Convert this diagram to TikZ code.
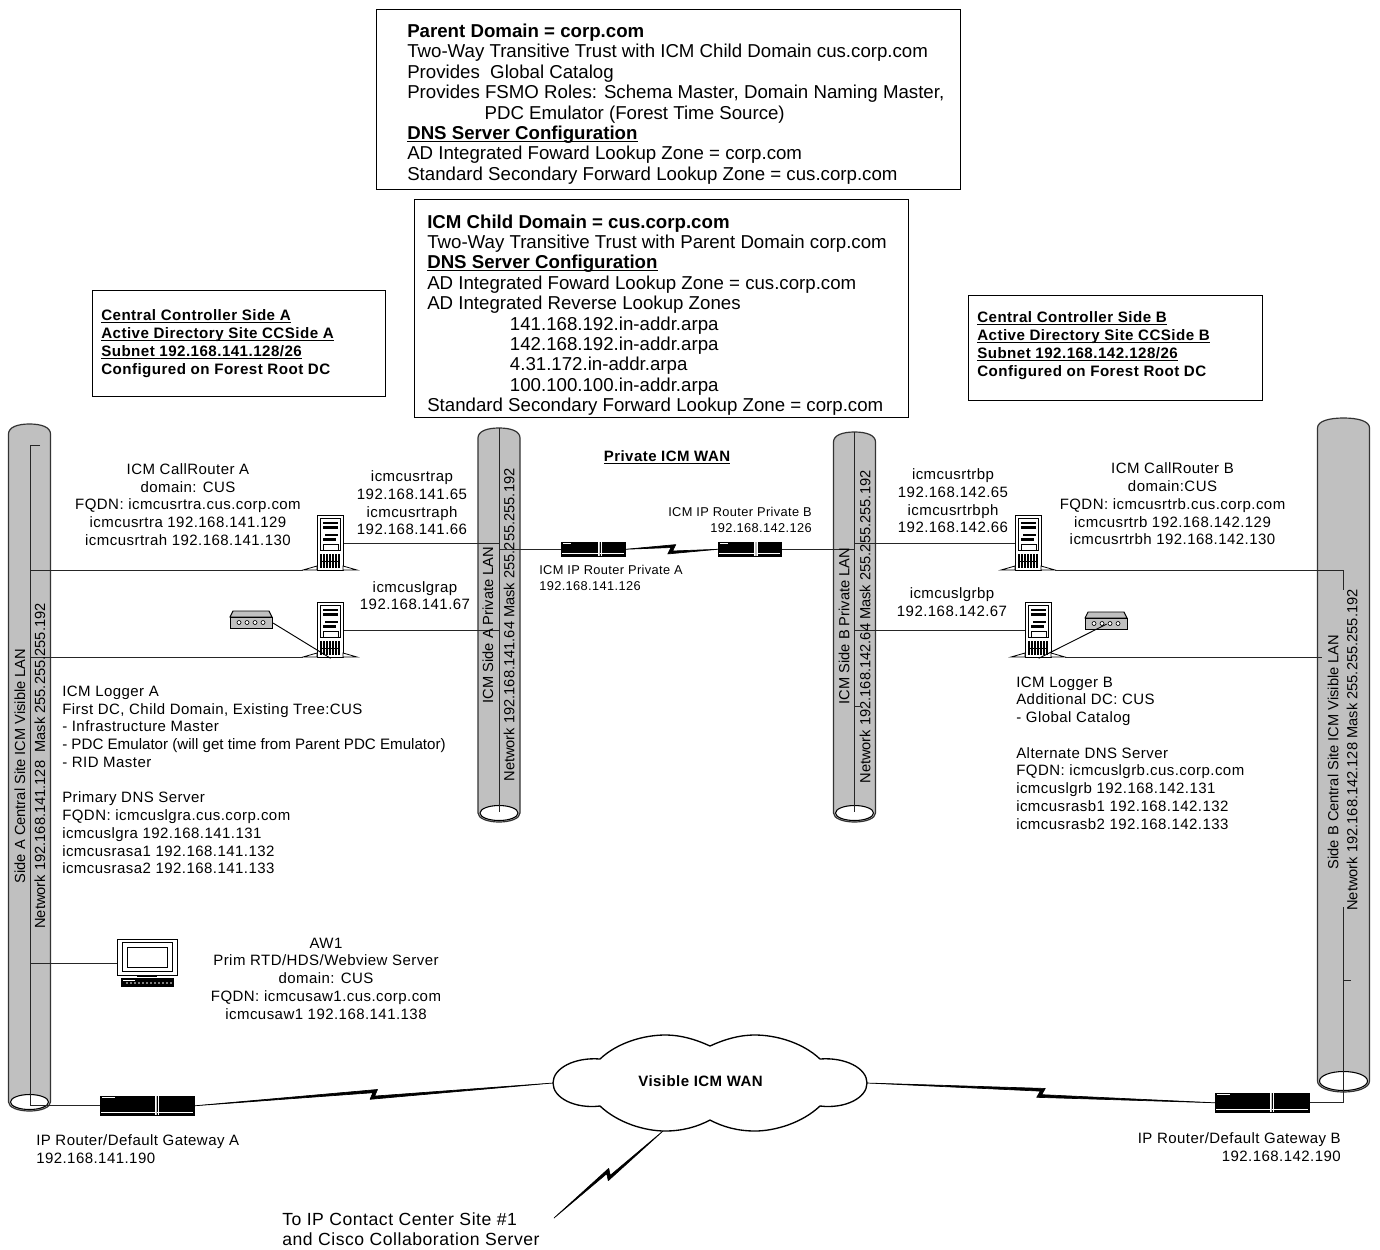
\documentclass[tikz,border=0pt]{standalone}
\usepackage{fontspec}
\usepackage{xcolor}
\setmainfont{Liberation Sans}
\newfontfamily\spacedfont[LetterSpace=3]{Liberation Sans}
\usetikzlibrary{calc}
\definecolor{pipegray}{HTML}{C0C0C0}
\tikzset{%
    infobox/.style={draw,line width=1pt,inner sep=0pt,anchor=north west},
    infotext/.style={inner sep=0pt,align=left,anchor=west,font=\fontsize{14}{15.3}\selectfont},
    sidetext/.style={inner sep=0pt,align=left,anchor=west,font=\fontsize{11.35}{13.5}\spacedfont\bfseries},
    lbl/.style={inner sep=0pt,align=center,font=\fontsize{11.25}{13.3}\spacedfont},
    lblleft/.style={lbl,align=left,anchor=west},
    lblright/.style={lbl,align=right,anchor=east},
    smalllbl/.style={inner sep=0pt,font=\fontsize{9.6}{12}\spacedfont},
    pipetext/.style={inner sep=0pt,rotate=90,font=\fontsize{11}{13}\selectfont},
    boldlbl/.style={inner sep=0pt,font=\fontsize{11.25}{13.5}\spacedfont\bfseries},
    lanline/.style={line width=0.7pt,color=black!85},
    pics/lanpipe/.style n args={3}{code={
        \draw[fill=pipegray,line width=0.9pt,color=black!80,fill=pipegray] (-#1,10) .. controls (-#1,3) and ({-0.55*#1},0) .. (0,0) .. controls ({0.55*#1},0) and (#1,3) .. (#1,10) -- (#1,#2) .. controls (#1,{#2+0.6*#3}) and ({0.55*#1},{#2+#3}) .. (0,{#2+#3}) .. controls ({-0.55*#1},{#2+#3}) and (-#1,{#2+0.6*#3}) .. (-#1,#2) -- cycle;
        \draw[fill=white,line width=0.8pt] (0,#2) ellipse [x radius={#1-2},y radius={#3-1.5}];
    }},
    pics/server/.style={code={
        \node[draw=black,line width=1pt,fill=white,inner sep=0pt,minimum width=19.5pt,minimum height=41.25pt,anchor=north west] (-body) at (0,0) {};
        \coordinate (-footL) at (-14,55);
        \coordinate (-footR) at (40,55);
        \draw[line width=0.6pt,fill=white] (-14,55) -- (0,51) -- (0,55) -- cycle;
        \draw[line width=0.6pt,fill=white] (40,55) -- (26,51) -- (26,55) -- cycle;
        \draw[line width=0.5pt] (3,3) rectangle (23,35);
        \fill (6,7) rectangle (21,9);
        \fill (6,11) rectangle (21,14);
        \fill (8,19) rectangle (21,21);
        \fill (6,23) rectangle (19,26);
        \draw[line width=0.5pt] (6,29) rectangle (21,35);
        \foreach \xs in {4,7,10,13,16,19,22}
            \draw[line width=1.1pt] (\xs,39) -- (\xs,53);
        \draw[line width=0.6pt] (3,46) -- (23,46);
    }},
    pics/routerbox/.style 2 args={code={
        \node[draw=black,fill=black,inner sep=0pt,minimum width={#1*0.75pt},minimum height={#2*0.75pt},anchor=north west] (-body) at (0,0) {};
        \draw[white,line width=0.5pt] (1,{#2-3}) -- ({#1-1},{#2-3});
        \draw[white,line width=0.4pt] (2,1.5) -- ({0.16*#1},1.5);
        \draw[pipegray,line width=1.4pt] ({0.6*#1},0) -- ({0.6*#1},#2);
        \draw[white,line width=0.4pt] ({0.6*#1+1.6},0) -- ({0.6*#1+1.6},#2);
        \draw[white,line width=0.4pt] ({0.6*#1-1.6},0) -- ({0.6*#1-1.6},#2);
    }},
    pics/modem/.style={code={
        \draw[fill=pipegray,line width=0.7pt] (3,0) -- (39,0) -- (42,6) -- (0,6) -- cycle;
        \node[draw=black,line width=0.9pt,fill=pipegray,inner sep=0pt,minimum width=31.5pt,minimum height=8.25pt,anchor=north west] (-body) at (0,6) {};
        \foreach \xs in {9,17,25,33}
            \draw[fill=white,line width=0.5pt] (\xs,11.5) circle [radius=2];
    }},
    pics/monitor/.style={code={
        \node[draw=black,line width=0.9pt,fill=white,inner sep=0pt,minimum width=45pt,minimum height=27pt,anchor=north west] (-body) at (0,0) {};
        \coordinate (-port) at (0,24);
        \draw[line width=0.7pt] (5,3) rectangle (55,32);
        \draw[line width=0.7pt] (10,8) rectangle (50,28);
        \fill (20,36) rectangle (40,38);
        \fill (4,39) rectangle (57,48);
        \foreach \xs in {10,14,...,54}
            \fill[white] (\xs,44) circle [radius=0.9];
        \fill[white] (6,41) rectangle (18,42);
    }},
}
\newcommand{\boltlink}[2]{%
    \draw[fill,line width=0.5pt,line join=round] (#1) -- ($(#1)!.5!(#2)!3pt!(#2)!3.5pt!90:(#2)$) -- ($(#1)!.5!(#2)!0.6pt!(#2)!-1.3pt!90:(#2)$) -- (#2) -- ($(#1)!.5!(#2)!-3pt!(#2)!-3.5pt!90:(#2)$) -- ($(#1)!.5!(#2)!-0.6pt!(#2)!1.3pt!90:(#2)$) -- cycle;
}
\newcommand{\ulined}[1]{\setbox0=\hbox{#1}\rlap{\rule[-1.8pt]{\wd0}{0.8pt}}\box0}
\begin{document}
\begin{tikzpicture}[x=0.75pt,y=-0.75pt]
        \useasboundingbox (0,0) rectangle (1380,1249);

        \pic (pipeVisA) at (29.5,424) {lanpipe={21}{678}{9}};
        \pic (pipePrivA) at (499,428) {lanpipe={21}{385}{9}};
        \pic (pipePrivB) at (854.5,432) {lanpipe={21}{381}{9}};
        \pic (pipeVisB) at (1343.5,418) {lanpipe={26}{663}{11}};

        \coordinate (visA) at (30,445);
        \coordinate (privA) at (499,428);
        \coordinate (privB) at (854.5,432);
        \coordinate (visB) at (1343,570);
        \coordinate (visBlow) at (1343,907);
        \coordinate (logBend) at (1322,657);

        \pic (srvRtrA) at (317,515) {server};
        \pic (srvLogA) at (317,602) {server};
        \pic (srvRtrB) at (1015,515) {server};
        \pic (srvLogB) at (1025,602) {server};
        \pic (modA) at (230,611) {modem};
        \pic (modB) at (1085,612) {modem};
        \pic (wsA) at (117,939) {monitor};
        \pic (rtrPrivA) at (561,542) {routerbox={64}{14}};
        \pic (rtrPrivB) at (718,542) {routerbox={63}{14}};
        \pic (rtrVisA) at (100,1096) {routerbox={94}{19}};
        \pic (rtrVisB) at (1215,1093) {routerbox={94}{19}};

        \draw[lanline] ($(visA)+(10,0)$) -- (visA) |- (rtrVisA-body.west);
        \draw[lanline] (visA |- srvRtrA-footL) -- (srvRtrA-footL);
        \draw[lanline] (visA |- srvLogA-footL) -- (srvLogA-footL);
        \draw[lanline] (visA |- wsA-port) -- (wsA-port);
        \draw[lanline] (privA) -- ++(0,384);
        \draw[lanline] (privB) -- ++(0,380);
        \draw[lanline] (srvRtrA-body.east) -- (privA |- srvRtrA-body.east);
        \draw[lanline] (srvLogA-body.east) -- (privA |- srvLogA-body.east);
        \draw[lanline] (privA |- rtrPrivA-body.west) -- (rtrPrivA-body.west);
        \draw[lanline] (rtrPrivB-body.east) -- (privB |- rtrPrivB-body.east);
        \draw[lanline] (srvRtrB-body.west) -- (privB |- srvRtrB-body.west);
        \draw[lanline] (srvLogB-body.west) -- (privB |- srvLogB-body.west);
        \draw[lanline] (privB |- 0,706) -- ++(5.5,0);
        \draw[lanline] (srvRtrB-footR) -- (visB) -- ++(0,20);
        \draw[lanline] (srvLogB-footR) -- (logBend);
        \draw[lanline] (visBlow) |- (rtrVisB-body.east);
        \draw[lanline] (visB |- 0,980) -- ++(8,0);
        \draw[line width=0.7pt] (modA-body.east) -- (srvLogA-body.south);
        \draw[line width=0.7pt] (modB-body.center) -- (srvLogB-body.south);

        \coordinate (cloudW) at (553,1083);
        \coordinate (cloudE) at (867,1083);
        \coordinate (cloudS) at (663,1131);
        \coordinate (siteEnd) at (554,1218);
        \draw[line width=1pt,fill=white] (cloudW) .. controls (553,1068) and (575,1057) .. (600,1059) .. controls (618,1042) and (645,1035) .. (665,1035) .. controls (682,1035) and (697,1040) .. (710,1046) .. controls (723,1040) and (738,1035) .. (755,1035) .. controls (775,1035) and (802,1042) .. (820,1059) .. controls (845,1057) and (867,1068) .. (cloudE) .. controls (867,1098) and (845,1109) .. (820,1106) .. controls (802,1123) and (775,1131) .. (755,1131) .. controls (738,1131) and (723,1127) .. (710,1120) .. controls (697,1127) and (682,1131) .. (665,1131) .. controls (645,1131) and (618,1123) .. (600,1106) .. controls (575,1109) and (553,1098) .. (cloudW) -- cycle;
        \boltlink{rtrVisA-body.east}{cloudW}
        \boltlink{cloudE}{rtrVisB-body.west}
        \boltlink{rtrPrivA-body.east}{rtrPrivB-body.west}
        \boltlink{siteEnd}{cloudS}

        \node[infobox,minimum width=438pt,minimum height=135pt] (parentBox) at (376,9) {};
        \node[infotext] (parentText) at (407,104) {\textbf{Parent Domain = corp.com}\\
            Two-Way Transitive Trust with ICM Child Domain cus.corp.com\\
            Provides\ \ Global Catalog\\
            Provides FSMO Roles: Schema Master, Domain Naming Master,\\
            \hspace*{58pt}PDC Emulator (Forest Time Source)\\
            \ulined{\textbf{DNS Server Configuration}}\\
            AD Integrated Foward Lookup Zone = corp.com\\
            Standard Secondary Forward Lookup Zone = cus.corp.com};
        \node[infobox,minimum width=370.5pt,minimum height=163.5pt] (childBox) at (414,199) {};
        \node[infotext] (childText) at (427,315) {\textbf{ICM Child Domain = cus.corp.com}\\
            Two-Way Transitive Trust with Parent Domain corp.com\\
            \ulined{\textbf{DNS Server Configuration}}\\
            AD Integrated Foward Lookup Zone = cus.corp.com\\
            AD Integrated Reverse Lookup Zones\\
            \hspace*{62pt}141.168.192.in-addr.arpa\\
            \hspace*{62pt}142.168.192.in-addr.arpa\\
            \hspace*{62pt}4.31.172.in-addr.arpa\\
            \hspace*{62pt}100.100.100.in-addr.arpa\\
            Standard Secondary Forward Lookup Zone = corp.com};
        \node[infobox,minimum width=219.75pt,minimum height=79.5pt] (sideBoxA) at (92,290) {};
        \node[sidetext] (sideTextA) at (101,344) {\ulined{Central Controller Side A}\\
            \ulined{Active Directory Site CCSide A}\\
            \ulined{Subnet 192.168.141.128/26}\\
            Configured on Forest Root DC};
        \node[infobox,minimum width=220.5pt,minimum height=78.75pt] (sideBoxB) at (968,295) {};
        \node[sidetext] (sideTextB) at (977,346) {\ulined{Central Controller Side B}\\
            \ulined{Active Directory Site CCSide B}\\
            \ulined{Subnet 192.168.142.128/26}\\
            Configured on Forest Root DC};

        \node[pipetext] (visAname) at (20,766) {Side A Central Site ICM Visible LAN};
        \node[pipetext] (visAnet) at (40,766) {Network 192.168.141.128\ \ Mask 255.255.255.192};
        \node[pipetext] (privAname) at (488,625) {ICM Side A Private LAN};
        \node[pipetext] (privAnet) at (509,625) {Network 192.168.141.64 Mask 255.255.255.192};
        \node[pipetext] (privBname) at (844,626) {ICM Side B Private LAN};
        \node[pipetext] (privBnet) at (865,627) {Network 192.168.142.64 Mask 255.255.255.192};
        \node[pipetext] (visBname) at (1333,752) {Side B Central Site ICM Visible LAN};
        \node[pipetext] (visBnet) at (1352,750) {Network 192.168.142.128 Mask 255.255.255.192};

        \node[lbl] (rtrAtext) at (188,504.5) {ICM CallRouter A\\domain: CUS\\FQDN: icmcusrtra.cus.corp.com\\icmcusrtra 192.168.141.129\\icmcusrtrah 192.168.141.130};
        \node[lbl] (rtrApriv) at (412,503) {icmcusrtrap\\192.168.141.65\\icmcusrtraph\\192.168.141.66};
        \node[lbl] (logApriv) at (415,595.5) {icmcuslgrap\\192.168.141.67};
        \node[lblleft] (logAtext) at (62,780) {ICM Logger A\\
            First DC, Child Domain, Existing Tree:CUS\\
            - Infrastructure Master\\
            {\rmfamily\fontsize{11.35}{13.3}\selectfont - PDC Emulator (will get time from Parent PDC Emulator)}\\
            - RID Master\\[13.3pt]
            Primary DNS Server\\
            FQDN: icmcuslgra.cus.corp.com\\
            icmcuslgra 192.168.141.131\\
            icmcusrasa1 192.168.141.132\\
            icmcusrasa2 192.168.141.133};
        \node[lbl] (awtext) at (326,978.5) {AW1\\Prim RTD/HDS/Webview Server\\domain: CUS\\FQDN: icmcusaw1.cus.corp.com\\icmcusaw1 192.168.141.138};
        \node[lbl] (rtrBtext) at (1172.5,504) {ICM CallRouter B\\domain:CUS\\FQDN: icmcusrtrb.cus.corp.com\\icmcusrtrb 192.168.142.129\\icmcusrtrbh 192.168.142.130};
        \node[lbl] (rtrBpriv) at (953,501) {icmcusrtrbp\\192.168.142.65\\icmcusrtrbph\\192.168.142.66};
        \node[lbl] (logBpriv) at (952,602) {icmcuslgrbp\\192.168.142.67};
        \node[lblleft] (logBtext) at (1016,753) {ICM Logger B\\
            Additional DC: CUS\\
            - Global Catalog\\[13.3pt]
            Alternate DNS Server\\
            FQDN: icmcuslgrb.cus.corp.com\\
            icmcuslgrb 192.168.142.131\\
            icmcusrasb1 192.168.142.132\\
            icmcusrasb2 192.168.142.133};

        \node[boldlbl] (privWan) at (667,457) {\ulined{Private ICM WAN}};
        \node[boldlbl] (visWan) at (700.5,1081) {Visible ICM WAN};
        \node[smalllbl,align=left,anchor=west] (rtrPrivAtext) at (539,578) {ICM IP Router Private A\\192.168.141.126};
        \node[smalllbl,align=right,anchor=east] (rtrPrivBtext) at (812,520) {ICM IP Router Private B\\192.168.142.126};
        \node[lblleft] (gwAtext) at (36,1149) {IP Router/Default Gateway A\\192.168.141.190};
        \node[lblright] (gwBtext) at (1341,1147) {IP Router/Default Gateway B\\192.168.142.190};
        \node[inner sep=0pt,align=left,anchor=west,font=\fontsize{13.2}{15}\spacedfont] (sitetext) at (282,1229) {To IP Contact Center Site \#1\\and Cisco Collaboration Server};
\end{tikzpicture}
\end{document}
